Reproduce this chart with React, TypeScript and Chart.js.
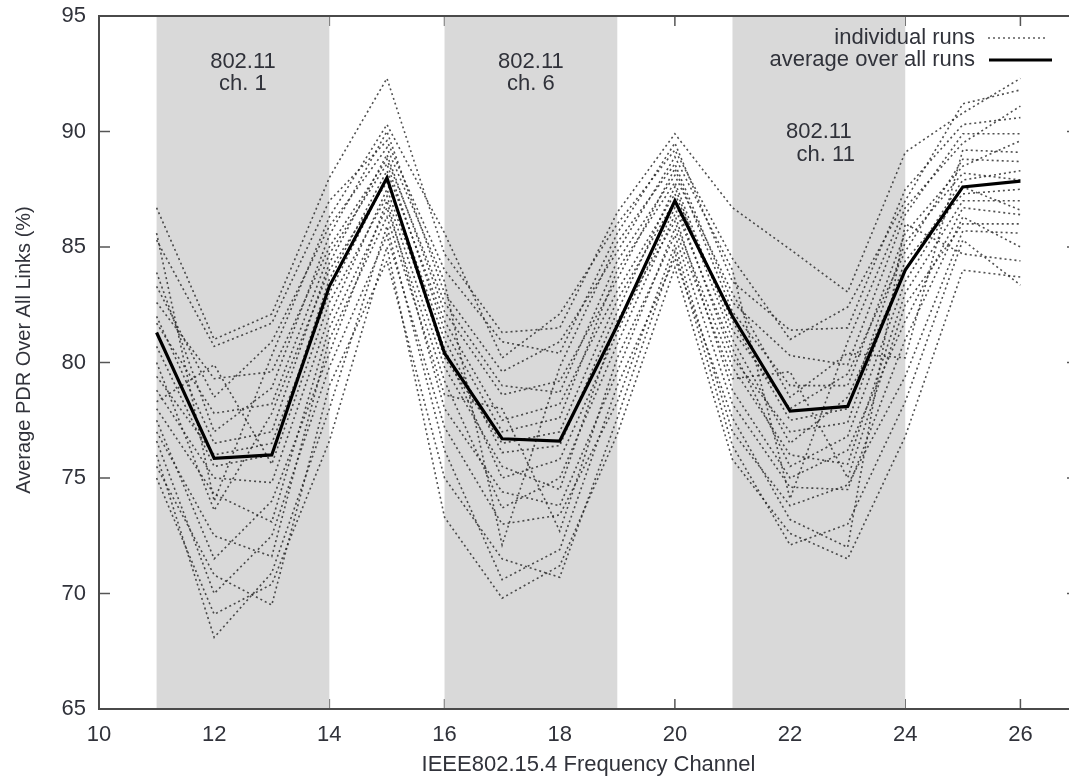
import React, { useEffect, useRef } from 'react';
import { Chart, registerables } from 'chart.js';

Chart.register(...registerables);

const FONT = "'Liberation Sans', Arial, sans-serif";
const TEXT_COLOR = '#30323a';

// x: IEEE 802.15.4 channels
const CHANNELS = [11, 12, 13, 14, 15, 16, 17, 18, 19, 20, 21, 22, 23, 24, 25, 26];
const X_TICKS = [10, 12, 14, 16, 18, 20, 22, 24, 26];
const Y_TICKS = [65, 70, 75, 80, 85, 90, 95];

// average over all runs
const AVERAGE = [81.3, 75.85, 76.0, 83.3, 88.0, 80.4, 76.7, 76.6, 81.6, 87.0, 82.0, 77.9, 78.1, 84.0, 87.6, 87.85];

// individual runs
const RUN_01 = [86.7, 81.0, 82.1, 88.0, 92.3, 84.7, 81.3, 81.5, 86.5, 89.9, 86.7, 84.9, 83.05, 89.1, 90.8, 92.3];
const RUN_02 = [85.6, 74.0, 80.3, 86.3, 90.3, 85.6, 80.2, 82.1, 86.0, 89.2, 84.5, 81.0, 82.4, 87.0, 91.2, 91.8];
const RUN_03 = [85.3, 80.7, 81.7, 87.0, 89.6, 84.0, 80.9, 80.4, 85.6, 89.5, 83.5, 81.4, 81.5, 87.5, 90.3, 90.6];
const RUN_04 = [83.9, 77.0, 78.9, 85.5, 90.0, 83.0, 79.6, 80.9, 84.8, 88.9, 84.0, 74.1, 80.9, 86.7, 89.5, 91.1];
const RUN_05 = [83.3, 78.5, 80.9, 85.9, 89.3, 83.5, 72.1, 79.8, 85.2, 88.6, 82.6, 80.3, 79.9, 86.4, 89.9, 89.9];
const RUN_06 = [82.6, 79.3, 79.6, 85.0, 88.8, 82.6, 79.0, 78.7, 84.4, 88.1, 83.0, 78.5, 80.4, 80.2, 89.2, 89.1];
const RUN_07 = [82.0, 76.5, 77.0, 84.3, 89.0, 82.2, 78.6, 79.2, 83.6, 88.4, 82.2, 79.0, 79.0, 85.6, 88.5, 89.6];
const RUN_08 = [81.7, 77.8, 78.2, 84.7, 88.6, 81.4, 77.0, 77.6, 84.0, 87.8, 81.4, 78.0, 79.5, 84.8, 88.8, 88.7];
const RUN_09 = [80.7, 75.5, 76.0, 83.6, 88.3, 81.8, 77.5, 78.2, 83.1, 87.3, 81.8, 77.5, 78.0, 85.2, 88.2, 87.9];
const RUN_10 = [80.0, 73.6, 77.8, 84.0, 87.8, 81.0, 76.1, 76.4, 82.2, 87.6, 81.0, 76.5, 78.5, 84.0, 87.9, 88.3];
const RUN_11 = [79.4, 76.0, 76.5, 83.0, 88.0, 80.2, 76.5, 77.0, 82.7, 87.0, 80.2, 77.0, 77.4, 84.4, 87.3, 87.5];
const RUN_12 = [78.8, 75.0, 74.8, 82.0, 87.5, 80.6, 75.0, 75.8, 81.3, 86.7, 80.6, 75.5, 76.8, 83.5, 87.6, 86.6];
const RUN_13 = [78.3, 79.9, 75.6, 82.6, 87.2, 79.8, 75.5, 74.5, 81.8, 86.1, 79.8, 76.0, 75.6, 83.0, 87.0, 87.0];
const RUN_14 = [78.0, 74.3, 73.1, 81.5, 86.7, 79.2, 73.7, 75.0, 80.8, 86.4, 78.8, 75.0, 76.2, 81.8, 86.7, 86.4];
const RUN_15 = [77.5, 71.5, 74.0, 80.4, 87.0, 78.0, 74.4, 73.8, 79.6, 85.8, 79.3, 79.6, 75.0, 82.5, 86.0, 86.0];
const RUN_16 = [77.0, 72.5, 71.6, 81.0, 86.3, 78.6, 78.0, 72.7, 80.2, 85.5, 78.2, 74.6, 74.5, 81.0, 86.3, 85.0];
const RUN_17 = [76.6, 70.0, 72.5, 79.8, 85.5, 77.2, 73.0, 73.4, 78.3, 85.1, 77.0, 73.8, 74.7, 79.4, 85.7, 85.6];
const RUN_18 = [76.0, 68.1, 70.9, 78.0, 85.9, 76.2, 70.6, 71.9, 79.0, 84.5, 77.6, 73.2, 72.0, 86.0, 84.7, 84.4];
const RUN_19 = [75.5, 70.8, 69.5, 79.0, 84.4, 75.0, 71.5, 70.7, 77.6, 84.8, 76.4, 72.1, 73.0, 78.3, 85.3, 83.35];
const RUN_20 = [75.0, 69.1, 70.4, 76.6, 85.0, 73.3, 69.8, 71.2, 76.9, 84.1, 75.8, 72.6, 71.5, 76.8, 84.0, 83.7];

const RUNS = [
  RUN_01, RUN_02, RUN_03, RUN_04, RUN_05, RUN_06, RUN_07, RUN_08, RUN_09, RUN_10,
  RUN_11, RUN_12, RUN_13, RUN_14, RUN_15, RUN_16, RUN_17, RUN_18, RUN_19, RUN_20,
];

// 802.11 overlapping channel bands (in 802.15.4 channel units)
const BAND_STARTS = [11, 16, 21];
const BAND_ENDS = [14, 19, 24];
const BAND_TEXT_LINE1 = ['802.11', '802.11', '802.11'];
const BAND_TEXT_LINE2 = ['ch. 1', 'ch. 6', 'ch. 11'];
const BAND_TEXT_X1 = [12.5, 17.5, 22.5];
const BAND_TEXT_X2 = [12.5, 17.5, 22.62];
const BAND_TEXT_Y1 = [93.0, 93.0, 90.0];
const BAND_TEXT_Y2 = [92.05, 92.05, 89.0];

const LEGEND_RUNS = 'individual runs';
const LEGEND_AVG = 'average over all runs';
const X_TITLE = 'IEEE802.15.4 Frequency Channel';
const Y_TITLE = 'Average PDR Over All Links (%)';

const toPoints = (arr: number[]) => CHANNELS.map((c, i) => ({ x: c, y: arr[i] }));

const decorPlugin = {
  id: 'decor',
  beforeDatasetsDraw(chart: any) {
    const { ctx, chartArea, scales } = chart;
    const { left, right, top, bottom } = chartArea;
    const x = scales.x;
    const y = scales.y;
    ctx.save();
    const line = (x0: number, y0: number, x1: number, y1: number) => {
      ctx.beginPath();
      ctx.moveTo(x0, y0);
      ctx.lineTo(x1, y1);
      ctx.stroke();
    };
    // inward ticks (mirrored)
    ctx.strokeStyle = '#555';
    ctx.lineWidth = 1.5;
    X_TICKS.forEach((v) => {
      const px = x.getPixelForValue(v);
      line(px, bottom, px, bottom - 10);
      line(px, top, px, top + 10);
    });
    Y_TICKS.forEach((v) => {
      const py = y.getPixelForValue(v);
      line(left, py, left + 11, py);
      line(right, py, right - 11, py);
    });
    // bands
    ctx.fillStyle = '#d9d9d9';
    BAND_STARTS.forEach((s, i) => {
      const x0 = x.getPixelForValue(s);
      const x1 = x.getPixelForValue(BAND_ENDS[i]);
      ctx.fillRect(x0, top, x1 - x0, bottom - top);
    });
    // frame
    ctx.strokeStyle = '#4a4a4a';
    ctx.lineWidth = 2;
    ctx.strokeRect(left, top, right - left, bottom - top);
    // band labels
    ctx.fillStyle = TEXT_COLOR;
    ctx.font = `22px ${FONT}`;
    ctx.textAlign = 'center';
    ctx.textBaseline = 'middle';
    BAND_TEXT_LINE1.forEach((t, i) => {
      ctx.fillText(t, x.getPixelForValue(BAND_TEXT_X1[i]), y.getPixelForValue(BAND_TEXT_Y1[i]));
      ctx.fillText(BAND_TEXT_LINE2[i], x.getPixelForValue(BAND_TEXT_X2[i]), y.getPixelForValue(BAND_TEXT_Y2[i]));
    });
    ctx.restore();
  },
  afterDatasetsDraw(chart: any) {
    const { ctx, chartArea } = chart;
    const { right, top } = chartArea;
    ctx.save();
    ctx.fillStyle = TEXT_COLOR;
    ctx.font = `22px ${FONT}`;
    ctx.textAlign = 'right';
    ctx.textBaseline = 'middle';
    const textRight = right - 103;
    const y1 = top + 22;
    const y2 = top + 44;
    ctx.fillText(LEGEND_RUNS, textRight, y1);
    ctx.fillText(LEGEND_AVG, textRight, y2);
    ctx.strokeStyle = 'rgba(50,50,50,0.8)';
    ctx.lineWidth = 1.5;
    ctx.setLineDash([2, 3]);
    ctx.beginPath();
    ctx.moveTo(right - 90, y1);
    ctx.lineTo(right - 30, y1);
    ctx.stroke();
    ctx.setLineDash([]);
    ctx.strokeStyle = '#000';
    ctx.lineWidth = 3.2;
    ctx.beginPath();
    ctx.moveTo(right - 89, y2);
    ctx.lineTo(right - 26, y2);
    ctx.stroke();
    ctx.restore();
  },
  afterDraw(chart: any) {
    const { ctx } = chart;
    // y-axis title (placed slightly above the plot's vertical centre as in the reference)
    ctx.save();
    ctx.fillStyle = TEXT_COLOR;
    ctx.font = `20px ${FONT}`;
    ctx.textAlign = 'center';
    ctx.textBaseline = 'middle';
    ctx.translate(24, 350);
    ctx.rotate(-Math.PI / 2);
    ctx.fillText(Y_TITLE, 0, 0);
    ctx.restore();
  },
};

export default function App() {
  const canvasRef = useRef<HTMLCanvasElement | null>(null);

  useEffect(() => {
    const canvas = canvasRef.current;
    if (!canvas) return;
    const runDatasets = RUNS.map((r, i) => ({
      label: `run ${i + 1}`,
      data: toPoints(r),
      borderColor: 'rgba(35,35,35,0.8)',
      borderWidth: 1.6,
      borderDash: [2, 3],
      pointRadius: 0,
      tension: 0,
      fill: false,
    }));
    const chart = new Chart(canvas, {
      type: 'line',
      data: {
        datasets: [
          {
            label: 'average over all runs',
            data: toPoints(AVERAGE),
            borderColor: '#000',
            borderWidth: 3.2,
            pointRadius: 0,
            tension: 0,
            fill: false,
          },
          ...runDatasets,
        ],
      },
      options: {
        animation: false,
        responsive: false,
        maintainAspectRatio: false,
        devicePixelRatio: 1,
        layout: { padding: { top: 16, right: 12, left: 0, bottom: 0 } },
        plugins: { legend: { display: false }, tooltip: { enabled: false }, title: { display: false } },
        scales: {
          x: {
            type: 'linear',
            min: 10,
            max: 27,
            afterBuildTicks: (s: any) => {
              s.ticks = X_TICKS.map((value) => ({ value }));
            },
            afterFit: (s: any) => {
              s.height = 67;
              s.paddingLeft = 0;
              s.paddingRight = 0;
            },
            grid: { display: false, drawTicks: false },
            border: { display: false },
            ticks: {
              color: TEXT_COLOR,
              font: { family: FONT, size: 22 },
              padding: 13,
              maxRotation: 0,
              autoSkip: false,
            },
            title: {
              display: true,
              text: X_TITLE,
              color: TEXT_COLOR,
              font: { family: FONT, size: 22, lineHeight: 1 },
              padding: { top: 0, bottom: 0 },
            },
          },
          y: {
            type: 'linear',
            min: 65,
            max: 95,
            afterBuildTicks: (s: any) => {
              s.ticks = Y_TICKS.map((value) => ({ value }));
            },
            afterFit: (s: any) => {
              s.width = 99;
              s.paddingTop = 0;
              s.paddingBottom = 0;
            },
            grid: { display: false, drawTicks: false },
            border: { display: false },
            ticks: {
              color: TEXT_COLOR,
              font: { family: FONT, size: 22 },
              padding: 13,
            },
            title: { display: false },
          },
        },
      },
      plugins: [decorPlugin],
    } as any);
    return () => chart.destroy();
  }, []);

  return (
    <div style={{ position: 'fixed', left: 0, top: 0, width: 1069, height: 776, overflow: 'hidden', background: '#fff' }}>
      <canvas ref={canvasRef} width={1090} height={776} style={{ display: 'block', width: 1090, height: 776 }} />
    </div>
  );
}
